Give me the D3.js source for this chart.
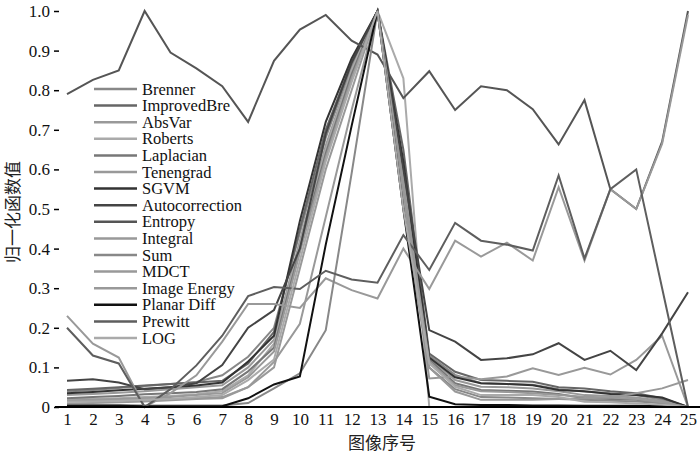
<!DOCTYPE html>
<html>
<head>
<meta charset="utf-8">
<script src="https://cdn.jsdelivr.net/npm/d3@7/dist/d3.min.js"></script>
<style>
  body { margin: 0; background: #fff; }
  text { font-family: "Liberation Serif", "DejaVu Serif", serif; }
</style>
</head>
<body>
<div id="chart"></div>
<script>
// image index on the x axis
var imageIndex = [1,2,3,4,5,6,7,8,9,10,11,12,13,14,15,16,17,18,19,20,21,22,23,24,25];

// normalised focus measure per method
var brenner        = [0.039,0.043,0.048,0.053,0.058,0.063,0.080,0.127,0.200,0.440,0.680,0.860,1.0,0.600,0.130,0.081,0.060,0.058,0.056,0.045,0.039,0.035,0.030,0.018,0.0];
var improvedBre    = [0.043,0.046,0.050,0.054,0.058,0.062,0.066,0.110,0.190,0.450,0.700,0.870,1.0,0.650,0.135,0.089,0.068,0.066,0.064,0.050,0.047,0.040,0.035,0.022,0.0];
var absVar         = [0.030,0.033,0.036,0.040,0.045,0.050,0.055,0.100,0.170,0.420,0.660,0.850,1.0,0.580,0.125,0.068,0.051,0.050,0.047,0.040,0.030,0.028,0.024,0.015,0.0];
var roberts        = [0.020,0.020,0.022,0.025,0.028,0.032,0.040,0.080,0.160,0.410,0.650,0.850,1.0,0.830,0.0,0.0,0.0,0.0,0.0,0.0,0.0,0.0,0.0,0.0,0.0];
var laplacian      = [0.022,0.025,0.028,0.032,0.035,0.038,0.045,0.090,0.150,0.400,0.640,0.840,1.0,0.550,0.120,0.060,0.043,0.041,0.039,0.033,0.022,0.020,0.018,0.009,0.0];
var tenengrad      = [0.016,0.018,0.020,0.022,0.025,0.030,0.035,0.075,0.140,0.390,0.630,0.830,1.0,0.550,0.072,0.077,0.070,0.077,0.098,0.081,0.099,0.082,0.119,0.180,0.0];
var sgvm           = [0.035,0.038,0.042,0.046,0.050,0.054,0.062,0.115,0.180,0.470,0.720,0.880,1.0,0.620,0.125,0.075,0.060,0.058,0.055,0.043,0.040,0.033,0.030,0.024,0.0];
var autocorrection = [0.066,0.070,0.062,0.045,0.050,0.060,0.106,0.200,0.245,0.400,0.690,0.870,1.0,0.600,0.194,0.165,0.119,0.123,0.133,0.161,0.119,0.142,0.093,0.186,0.290];
var entropy        = [0.790,0.826,0.850,1.0,0.895,0.855,0.810,0.720,0.874,0.953,0.990,0.925,0.890,0.780,0.848,0.750,0.810,0.800,0.752,0.663,0.775,0.550,0.500,0.670,1.0];
var integral       = [0.230,0.160,0.125,0.0,0.035,0.080,0.165,0.260,0.260,0.250,0.325,0.295,0.274,0.400,0.298,0.420,0.380,0.415,0.370,0.555,0.370,0.550,0.500,0.665,0.990];
var sum            = [0.005,0.005,0.005,0.004,0.004,0.004,0.004,0.010,0.047,0.085,0.194,0.590,1.0,0.500,0.100,0.045,0.025,0.024,0.022,0.020,0.018,0.016,0.014,0.010,0.0];
var mdct           = [0.015,0.016,0.017,0.018,0.020,0.022,0.025,0.050,0.114,0.210,0.480,0.750,1.0,0.560,0.115,0.055,0.040,0.038,0.035,0.030,0.026,0.024,0.020,0.012,0.0];
var imageEnergy    = [0.009,0.010,0.012,0.014,0.017,0.020,0.022,0.050,0.100,0.350,0.600,0.800,1.0,0.520,0.100,0.039,0.018,0.018,0.018,0.020,0.022,0.024,0.035,0.047,0.068];
var planarDiff     = [0.003,0.003,0.003,0.002,0.002,0.002,0.002,0.022,0.057,0.077,0.410,0.710,1.0,0.500,0.026,0.007,0.005,0.005,0.004,0.004,0.003,0.003,0.003,0.002,0.0];
var prewitt        = [0.200,0.130,0.110,0.0,0.045,0.105,0.180,0.280,0.303,0.298,0.344,0.322,0.314,0.434,0.346,0.465,0.420,0.410,0.395,0.585,0.375,0.550,0.600,0.300,0.0];
var log            = [0.013,0.014,0.016,0.018,0.020,0.025,0.030,0.068,0.120,0.370,0.620,0.820,1.0,0.500,0.110,0.051,0.030,0.030,0.030,0.025,0.013,0.012,0.009,0.006,0.0];

var seriesNames = ["Brenner","ImprovedBre","AbsVar","Roberts","Laplacian","Tenengrad","SGVM","Autocorrection",
                   "Entropy","Integral","Sum","MDCT","Image Energy","Planar Diff","Prewitt","LOG"];
var seriesValues = [brenner,improvedBre,absVar,roberts,laplacian,tenengrad,sgvm,autocorrection,
                    entropy,integral,sum,mdct,imageEnergy,planarDiff,prewitt,log];
var seriesColors = ["#888","#666","#999","#aaa","#777","#999","#333","#444",
                    "#555","#999","#888","#999","#999","#111","#5e5e5e","#aaa"];

var yTicks = [0,0.1,0.2,0.3,0.4,0.5,0.6,0.7,0.8,0.9,1.0];
var yTickLabels = ["0","0.1","0.2","0.3","0.4","0.5","0.6","0.7","0.8","0.9","1.0"];

var svg = d3.select("#chart")
  .append("svg")
    .attr("width", 700)
    .attr("height", 455);

var x = d3.scaleLinear()
  .domain([1, 25])
  .range([67, 688]);

var y = d3.scaleLinear()
  .domain([0, 1])
  .range([407, 11]);

// lines
var line = d3.line()
  .x(function (d, i) { return x(imageIndex[i]); })
  .y(function (d) { return y(d); });

svg.append("g")
  .selectAll("path")
  .data(seriesValues)
  .enter()
  .append("path")
    .attr("d", line)
    .attr("fill", "none")
    .attr("stroke", function (d, i) { return seriesColors[i]; })
    .attr("stroke-width", 2)
    .attr("stroke-linejoin", "miter");

// x axis
var xAxis = svg.append("g")
  .attr("transform", "translate(0,407)")
  .call(d3.axisBottom(x).tickValues(imageIndex).tickSize(0).tickPadding(6).tickFormat(d3.format("d")));
xAxis.select(".domain").attr("d", "M55,0H700").attr("stroke", "#000").attr("stroke-width", 2);
xAxis.selectAll("text").attr("font-size", 17).attr("fill", "#111").style("font-family", "Liberation Serif");

// y axis, ticks only, pointing inward
var yAxis = svg.append("g")
  .attr("transform", "translate(54,0)")
  .call(d3.axisLeft(y).tickValues(yTicks).tickSize(-5).tickPadding(4)
    .tickFormat(function (d, i) { return yTickLabels[i]; }));
yAxis.select(".domain").remove();
yAxis.selectAll("line").attr("stroke", "#000").attr("stroke-width", 1.5);
yAxis.selectAll("text").attr("font-size", 17).attr("fill", "#111").style("font-family", "Liberation Serif");

// axis titles
svg.append("text")
  .attr("transform", "translate(11,212) rotate(-90)")
  .attr("text-anchor", "middle")
  .attr("dominant-baseline", "central")
  .attr("font-size", 17)
  .attr("fill", "#222")
  .style("font-family", "Noto Sans CJK SC")
  .text("归一化函数值");

svg.append("text")
  .attr("x", 382)
  .attr("y", 449)
  .attr("text-anchor", "middle")
  .attr("font-size", 17)
  .attr("fill", "#222")
  .style("font-family", "Noto Sans CJK SC")
  .text("图像序号");

// legend
var legend = svg.append("g")
  .selectAll("g")
  .data(seriesNames)
  .enter()
  .append("g")
    .attr("transform", function (d, i) { return "translate(94," + (89 + i * 16.6) + ")"; });

legend.append("line")
  .attr("x1", 0)
  .attr("x2", 43)
  .attr("stroke", function (d, i) { return seriesColors[i]; })
  .attr("stroke-width", 2.5);

legend.append("text")
  .attr("x", 48)
  .attr("dominant-baseline", "central")
  .attr("font-size", 16.5)
  .attr("fill", "#111")
  .text(function (d) { return d; });
</script>
</body>
</html>
